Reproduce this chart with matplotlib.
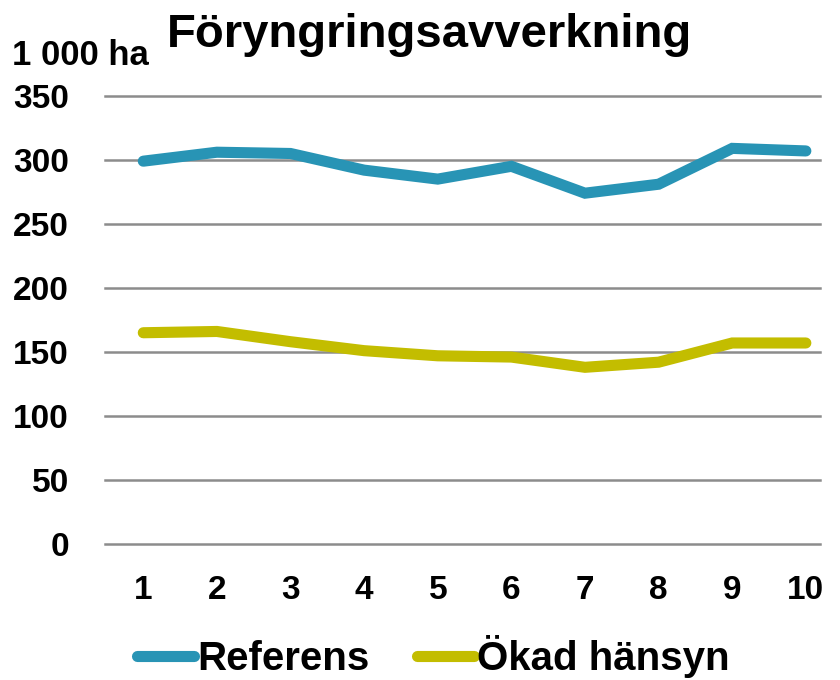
import matplotlib.pyplot as plt

years = [1, 2, 3, 4, 5, 6, 7, 8, 9, 10]
referens = [299, 306, 305, 292, 285, 295, 274, 281, 309, 307]
okad_hansyn = [165, 166, 158, 151, 147, 146, 138, 142, 157, 157]
yticks = [0, 50, 100, 150, 200, 250, 300, 350]

plt.rcParams['font.family'] = ['Liberation Sans', 'DejaVu Sans']
plt.rcParams['font.weight'] = 'bold'

fig = plt.figure(figsize=(8.4, 6.8), dpi=100)
ax = fig.add_axes([0.125, 0.2, 0.851, 0.659])

ax.plot(years, referens, color='#2894B5', lw=8, solid_capstyle='round',
        solid_joinstyle='miter', label='Referens')
ax.plot(years, okad_hansyn, color='#C3BD00', lw=8, solid_capstyle='round',
        solid_joinstyle='miter', label='Ökad hänsyn')

ax.set_xlim(0.48, 10.19)
ax.set_ylim(0, 350)
ax.set_yticks(yticks)
ax.set_xticks(years)
ax.grid(axis='y', color='#8c8c8c', lw=1.8)
for gl in ax.get_ygridlines():
    gl.set_clip_on(False)
ax.set_axisbelow(True)
for s in ax.spines.values():
    s.set_visible(False)
ax.tick_params(length=0, labelsize=24)
ax.tick_params(axis='y', pad=26)
ax.tick_params(axis='x', pad=22)
for lab in ax.get_xticklabels() + ax.get_yticklabels():
    lab.set_fontweight('bold')

fig.text(0.511, 0.931, 'Föryngringsavverkning', ha='center', va='baseline',
         fontsize=34, fontweight='bold')
fig.text(0.014, 0.904, '1 000 ha', ha='left', va='baseline',
         fontsize=25, fontweight='bold')

leg = fig.legend(loc='center', bbox_to_anchor=(0.516, 0.034), ncol=2,
                 frameon=False, fontsize=29, handlelength=1.4,
                 handletextpad=0.08, columnspacing=1.2)
for t in leg.get_texts():
    t.set_fontweight('bold')

fig.savefig('out.png', dpi=100)
